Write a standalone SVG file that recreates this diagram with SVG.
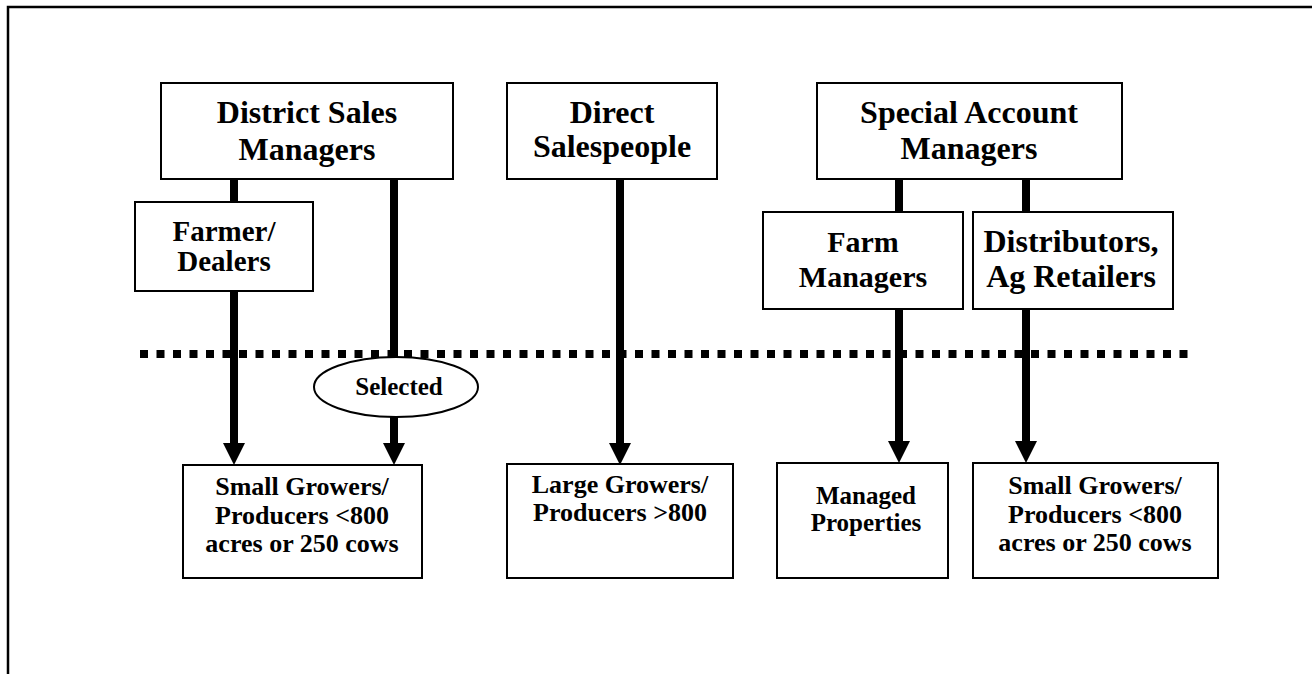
<svg xmlns="http://www.w3.org/2000/svg" width="1312" height="674" viewBox="0 0 1312 674">
<style>
.box{fill:#fff;stroke:#000;stroke-width:2}
.t{font-family:"Liberation Serif","Times New Roman",serif;font-weight:bold;fill:#000;text-anchor:middle}
.big{font-size:32px}
.mid{font-size:30px}
.far{font-size:29px}
.small{font-size:26px}
.man{font-size:25px}
.sel{font-size:25px}
.line{stroke:#000;stroke-width:8;fill:none}
</style>
<g id="frame">
<path d="M8,674 L8,7 L1312,7" fill="none" stroke="#000" stroke-width="2.5"/>
</g>
<g id="divider">
<line x1="140" y1="354" x2="1190" y2="354" stroke="#000" stroke-width="8" stroke-dasharray="8 8.5"/>
</g>
<g id="connectors">
<line class="line" x1="234" y1="179" x2="234" y2="202"/>
<line class="line" x1="234" y1="291" x2="234" y2="445"/>
<path d="M223,443 L245,443 L234,465 Z" fill="#000"/>
<line class="line" x1="394" y1="179" x2="394" y2="357"/>
<line class="line" x1="394" y1="417" x2="394" y2="445"/>
<path d="M383,443 L405,443 L394,465 Z" fill="#000"/>
<line class="line" x1="620" y1="179" x2="620" y2="445"/>
<path d="M609,443 L631,443 L620,465 Z" fill="#000"/>
<line class="line" x1="899" y1="179" x2="899" y2="212"/>
<line class="line" x1="899" y1="309" x2="899" y2="443"/>
<path d="M888,441 L910,441 L899,463 Z" fill="#000"/>
<line class="line" x1="1026" y1="179" x2="1026" y2="212"/>
<line class="line" x1="1026" y1="309" x2="1026" y2="443"/>
<path d="M1015,441 L1037,441 L1026,463 Z" fill="#000"/>
</g>
<g id="district">
<rect class="box" x="161" y="83" width="292" height="96"/>
<text class="t big" x="307" y="123">District Sales</text>
<text class="t big" x="307" y="160">Managers</text>
</g>
<g id="direct">
<rect class="box" x="507" y="83" width="210" height="96"/>
<text class="t big" x="612" y="123">Direct</text>
<text class="t big" x="612" y="157">Salespeople</text>
</g>
<g id="special">
<rect class="box" x="817" y="83" width="305" height="96"/>
<text class="t big" x="969" y="123">Special Account</text>
<text class="t big" x="969" y="159">Managers</text>
</g>
<g id="farmer">
<rect class="box" x="135" y="202" width="178" height="89"/>
<text class="t far" x="224" y="241">Farmer/</text>
<text class="t far" x="224" y="271">Dealers</text>
</g>
<g id="farm-managers">
<rect class="box" x="763" y="212" width="200" height="97"/>
<text class="t mid" x="863" y="252">Farm</text>
<text class="t mid" x="863" y="287">Managers</text>
</g>
<g id="distributors">
<rect class="box" x="973" y="212" width="200" height="97"/>
<text class="t big" x="1071" y="252">Distributors,</text>
<text class="t big" x="1071" y="287">Ag Retailers</text>
</g>
<g id="selected">
<ellipse cx="396" cy="387" rx="82" ry="30" fill="#fff" stroke="#000" stroke-width="2"/>
<text class="t sel" x="399" y="395">Selected</text>
</g>
<g id="small-growers-1">
<rect class="box" x="183" y="465" width="239" height="113"/>
<text class="t small" x="302" y="495">Small Growers/</text>
<text class="t small" x="302" y="524">Producers &lt;800</text>
<text class="t small" x="302" y="552">acres or 250 cows</text>
</g>
<g id="large-growers">
<rect class="box" x="507" y="464" width="226" height="114"/>
<text class="t small" x="620" y="493">Large Growers/</text>
<text class="t small" x="620" y="521">Producers &gt;800</text>
</g>
<g id="managed">
<rect class="box" x="777" y="463" width="171" height="115"/>
<text class="t man" x="866" y="504">Managed</text>
<text class="t man" x="866" y="531">Properties</text>
</g>
<g id="small-growers-2">
<rect class="box" x="973" y="463" width="245" height="115"/>
<text class="t small" x="1095" y="494">Small Growers/</text>
<text class="t small" x="1095" y="523">Producers &lt;800</text>
<text class="t small" x="1095" y="551">acres or 250 cows</text>
</g>
</svg>
